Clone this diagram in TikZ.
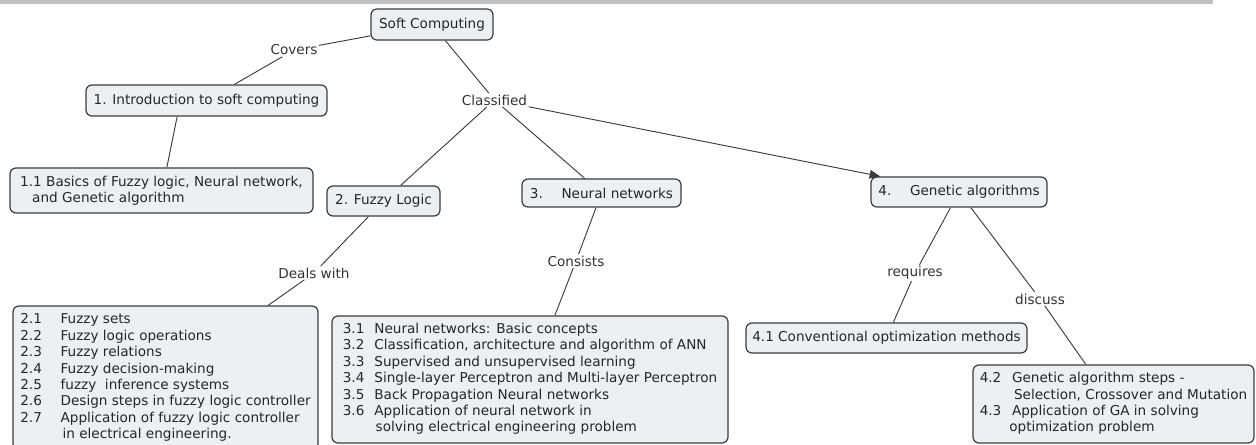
\documentclass[tikz,border=0pt]{standalone}
\usepackage{fontspec}
\setmainfont{DejaVu Sans}
\usetikzlibrary{arrows.meta}
\definecolor{boxfill}{HTML}{EAF0F3}
\definecolor{boxline}{HTML}{3C3C3C}
\definecolor{barfill}{HTML}{C0C0C0}
\tikzset{
	concept/.style = {draw = boxline, line width = 0.9pt, fill = boxfill, rounded corners = 4.5pt, inner sep = 0pt, text = black!85, font = \fontsize{10.2}{12.3}\selectfont},
	linkword/.style = {inner sep = 1pt, text = black!80, font = \fontsize{10.2}{12.3}\selectfont},
	link/.style = {draw = boxline, line width = 0.7pt}
}
\begin{document}
\begin{tikzpicture} [x = 0.75pt, y = -0.75pt]
	\useasboundingbox (0,0) rectangle (1256,445);
	\fill [barfill] (0,0) rectangle (1213,4);
	% concepts
	\node [concept, minimum width = 91.5pt, minimum height = 23.25pt] (soft) at (432,24.5) {Soft Computing};
	\node [concept, minimum width = 180.75pt, minimum height = 23.25pt] (intro) at (206.5,100.5) {1. Introduction to soft computing};
	\node [concept, minimum width = 227.25pt, minimum height = 33.75pt, align = left] (basics) at (161.5,190.5) {1.1 Basics of Fuzzy logic, Neural network,\\\hspace{9pt}and Genetic algorithm};
	\node [concept, minimum width = 84.75pt, minimum height = 22.5pt] (fuzzy) at (383.5,201) {2. Fuzzy Logic};
	\node [concept, minimum width = 119.25pt, minimum height = 21pt] (neural) at (601.5,193) {3.\hspace{14pt}Neural networks};
	\node [concept, minimum width = 132pt, minimum height = 22.5pt] (genetic) at (959,192) {4.\hspace{14pt}Genetic algorithms};
	\node [concept, minimum width = 228.75pt, minimum height = 108pt] (fuzzylist) at (165.5,378) {%
		\begin{tabular}{@{}l@{\hspace{14pt}}l@{}}
			2.1 & Fuzzy sets\\
			2.2 & Fuzzy logic operations\\
			2.3 & Fuzzy relations\\
			2.4 & Fuzzy decision-making\\
			2.5 & fuzzy\ \ inference systems\\
			2.6 & Design steps in fuzzy logic controller\\
			2.7 & Application of fuzzy logic controller\\
			& \hspace{1.5pt}in electrical engineering.
		\end{tabular}};
	\node [concept, minimum width = 297pt, minimum height = 95.25pt] (nnlist) at (530,379.5) {%
		\begin{tabular}{@{}l@{\hspace{7.5pt}}l@{}}
			3.1 & Neural networks: Basic concepts\\
			3.2 & Classification, architecture and algorithm of ANN\\
			3.3 & Supervised and unsupervised learning\\
			3.4 & Single-layer Perceptron and Multi-layer Perceptron\\
			3.5 & Back Propagation Neural networks\\
			3.6 & Application of neural network in\\
			& \hspace{1pt}solving electrical engineering problem
		\end{tabular}};
	\node [concept, minimum width = 210.75pt, minimum height = 22.5pt] (conv) at (886.5,338) {4.1 Conventional optimization methods};
	\node [concept, minimum width = 210.75pt, minimum height = 58.5pt] (gasteps) at (1113.5,404) {%
		\begin{tabular}{@{}l@{\hspace{8pt}}l@{}}
			4.2 & Genetic algorithm steps -\\
			& \hspace{1.5pt}Selection, Crossover and Mutation\\
			4.3 & Application of GA in solving\\
			& \hspace{-2pt}optimization problem
		\end{tabular}};
	% linking words
	\node [linkword] (covers) at (294,50) {Covers};
	\node [linkword] (classified) at (494.5,100) {Classified};
	\node [linkword] (deals) at (314,273) {Deals with};
	\node [linkword] (consists) at (576,261) {Consists};
	\node [linkword] (requires) at (915,273) {requires};
	\node [linkword] (discuss) at (1040,299) {discuss};
	% links
	\draw [link] (soft) -- (covers) -- (intro);
	\draw [link] ([xshift = -22pt]intro.south) -- ([xshift = 4pt]basics.north);
	\draw [link] (soft) -- (classified);
	\draw [link] (classified) -- (fuzzy);
	\draw [link] (classified) -- (neural);
	\draw [link, -{Triangle[length = 8pt, width = 6.5pt]}] (classified) -- (genetic);
	\draw [link] (fuzzy) -- (deals) -- (fuzzylist);
	\draw [link] (neural) -- (consists) -- (nnlist);
	\draw [link] (genetic) -- (requires) -- (conv);
	\draw [link] (genetic) -- (discuss) -- (gasteps);
\end{tikzpicture}
\end{document}
